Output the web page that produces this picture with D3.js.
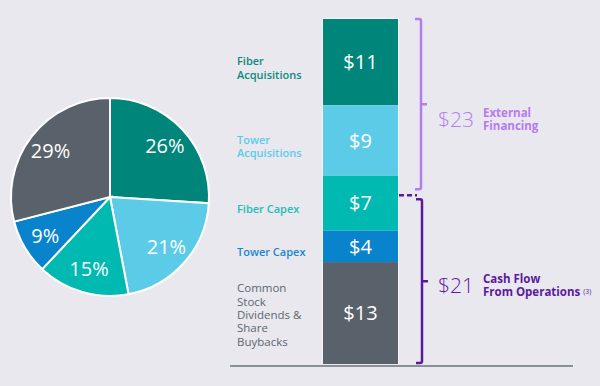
<!DOCTYPE html>
<html>
<head>
<meta charset="utf-8">
<script src="https://cdn.jsdelivr.net/npm/d3@7"></script>
<style>
  body { margin: 0; background: #e9e8ee; }
  svg { display: block; font-family: "Open Sans", sans-serif; }
</style>
</head>
<body>
<svg id="chart" width="600" height="386"></svg>
<script>
// pie shares (%), clockwise from 12 o'clock
const pieShares = [26, 21, 15, 9, 29];
const pieColors = ["#00857a", "#5ccbe8", "#00b9b1", "#0a83cd", "#59626a"];

// stacked bar, top to bottom ($bn)
const barNames = [["Fiber", "Acquisitions"], ["Tower", "Acquisitions"], ["Fiber Capex"], ["Tower Capex"],
  ["Common", "Stock", "Dividends &", "Share", "Buybacks"]];
const barValues = [11, 9, 7, 4, 13];
const barColors = ["#00857a", "#5ccbe8", "#00b9b1", "#0a83cd", "#59626a"];
const nameColors = ["#0d8a7f", "#5ccbe8", "#1fbdb4", "#1a86d0", "#5d6670"];

// funding sources
const fundTotal = 44;
const cashFlow = 21;
const external = 23;

const svg = d3.select("#chart");

// ---- pie ----
const cx = 110, cy = 197, r = 99;
const pie = d3.pie().sort(null).value(d => d);
const arcs = pie(pieShares);
const arc = d3.arc().innerRadius(0).outerRadius(r);
const labelArc = d3.arc().innerRadius(r * 0.76).outerRadius(r * 0.76);

const pg = svg.append("g").attr("transform", `translate(${cx},${cy})`);
pg.selectAll("path")
  .data(arcs)
  .enter()
  .append("path")
  .attr("d", arc)
  .attr("fill", (d, i) => pieColors[i])
  .attr("stroke", "#fff")
  .attr("stroke-width", 2);

pg.selectAll("text")
  .data(arcs)
  .enter()
  .append("text")
  .attr("transform", d => `translate(${labelArc.centroid(d)})`)
  .attr("text-anchor", "middle")
  .attr("dy", "0.36em")
  .attr("fill", "#fff")
  .style("font-size", "20px")
  .style("font-weight", 500)
  .text(d => d.data + "%");

// ---- stacked bar ----
const barX = 323, barW = 75;
const y = d3.scaleLinear().domain([0, fundTotal]).range([364, 19]);

let acc = fundTotal;
const stack = barValues.map((v, i) => {
  const top = acc;
  acc -= v;
  return { i, v, top, bottom: acc };
});

svg.append("rect")
  .attr("x", barX - 1)
  .attr("y", y(fundTotal) - 1)
  .attr("width", barW + 2)
  .attr("height", y(0) - y(fundTotal) + 1)
  .attr("fill", "#f7f4f9");

svg.selectAll(".seg")
  .data(stack)
  .enter()
  .append("rect")
  .attr("class", "seg")
  .attr("x", barX)
  .attr("y", d => y(d.top))
  .attr("width", barW)
  .attr("height", d => y(d.bottom) - y(d.top))
  .attr("fill", d => barColors[d.i]);

svg.selectAll(".segval")
  .data(stack)
  .enter()
  .append("text")
  .attr("class", "segval")
  .attr("x", barX + barW / 2)
  .attr("y", d => (y(d.top) + y(d.bottom)) / 2)
  .attr("dy", "0.36em")
  .attr("text-anchor", "middle")
  .attr("fill", "#fff")
  .style("font-size", "20px")
  .style("font-weight", 500)
  .text(d => "$" + d.v);

// category names to the left of the bar, one text per line
const lineH = 13.4;
const nameLines = [];
stack.forEach(d => {
  const lines = barNames[d.i];
  const mid = (y(d.top) + y(d.bottom)) / 2 + (d.i === 4 ? 2 : 6);
  lines.forEach((l, j) => {
    nameLines.push({ i: d.i, text: l, y: mid + (j - (lines.length - 1) / 2) * lineH });
  });
});

svg.selectAll(".name")
  .data(nameLines)
  .enter()
  .append("text")
  .attr("class", "name")
  .attr("x", 237)
  .attr("y", d => d.y)
  .attr("dy", "0.35em")
  .attr("fill", d => nameColors[d.i])
  .style("font-size", d => d.i === 4 ? "11.5px" : "11px")
  .style("font-weight", d => d.i === 4 ? 400 : 600)
  .text(d => d.text);

// baseline
svg.append("line")
  .attr("x1", 230).attr("x2", 573)
  .attr("y1", y(0) + 2).attr("y2", y(0) + 2)
  .attr("stroke", "#8a9299")
  .attr("stroke-width", 2);

// ---- brackets ----
function bracket(x, y0, y1, color) {
  const ym = (y0 + y1) / 2;
  const p = d3.path();
  p.moveTo(x - 6, y0);
  p.lineTo(x - 2, y0);
  p.quadraticCurveTo(x, y0, x, y0 + 2);
  p.lineTo(x, y1 - 2);
  p.quadraticCurveTo(x, y1, x - 2, y1);
  p.lineTo(x - 6, y1);
  p.moveTo(x, ym);
  p.lineTo(x + 6, ym);
  svg.append("path")
    .attr("d", p.toString())
    .attr("fill", "none")
    .attr("stroke", color)
    .attr("stroke-width", 2.5);
}

const extColor = "#b57bf0";
const cfColor = "#5b1a9e";
const ySplit = y(cashFlow);

bracket(421, y(fundTotal), ySplit - 10, extColor);
bracket(422, ySplit, y(0) - 1, cfColor);

svg.append("line")
  .attr("x1", barX + barW + 1).attr("x2", 417)
  .attr("y1", ySplit - 4).attr("y2", ySplit - 4)
  .attr("stroke", cfColor)
  .attr("stroke-width", 2.5)
  .attr("stroke-dasharray", "5,3");

function fundLabel(amount, lines, yMid, color, note) {
  svg.append("text")
    .attr("x", 438)
    .attr("y", yMid)
    .attr("dy", "0.36em")
    .attr("fill", color)
    .style("font-size", "21px")
    .style("font-weight", 300)
    .text("$" + amount);
  lines.forEach((l, j) => {
    const t = svg.append("text")
      .attr("x", 483)
      .attr("y", yMid - 6.5 + j * 13)
      .attr("dy", "0.35em")
      .attr("fill", color)
      .style("font-size", "11.5px")
      .style("font-weight", 700)
      .text(l);
    if (note && j === lines.length - 1) {
      t.append("tspan")
        .attr("dx", 3)
        .attr("dy", -2)
        .style("font-size", "7px")
        .style("font-weight", 400)
        .text(note);
    }
  });
}

fundLabel(external, ["External", "Financing"], (y(fundTotal) + ySplit - 10) / 2 + 15, extColor);
fundLabel(cashFlow, ["Cash Flow", "From Operations"], (ySplit + y(0)) / 2 + 4, cfColor, "(3)");
</script>
</body>
</html>
